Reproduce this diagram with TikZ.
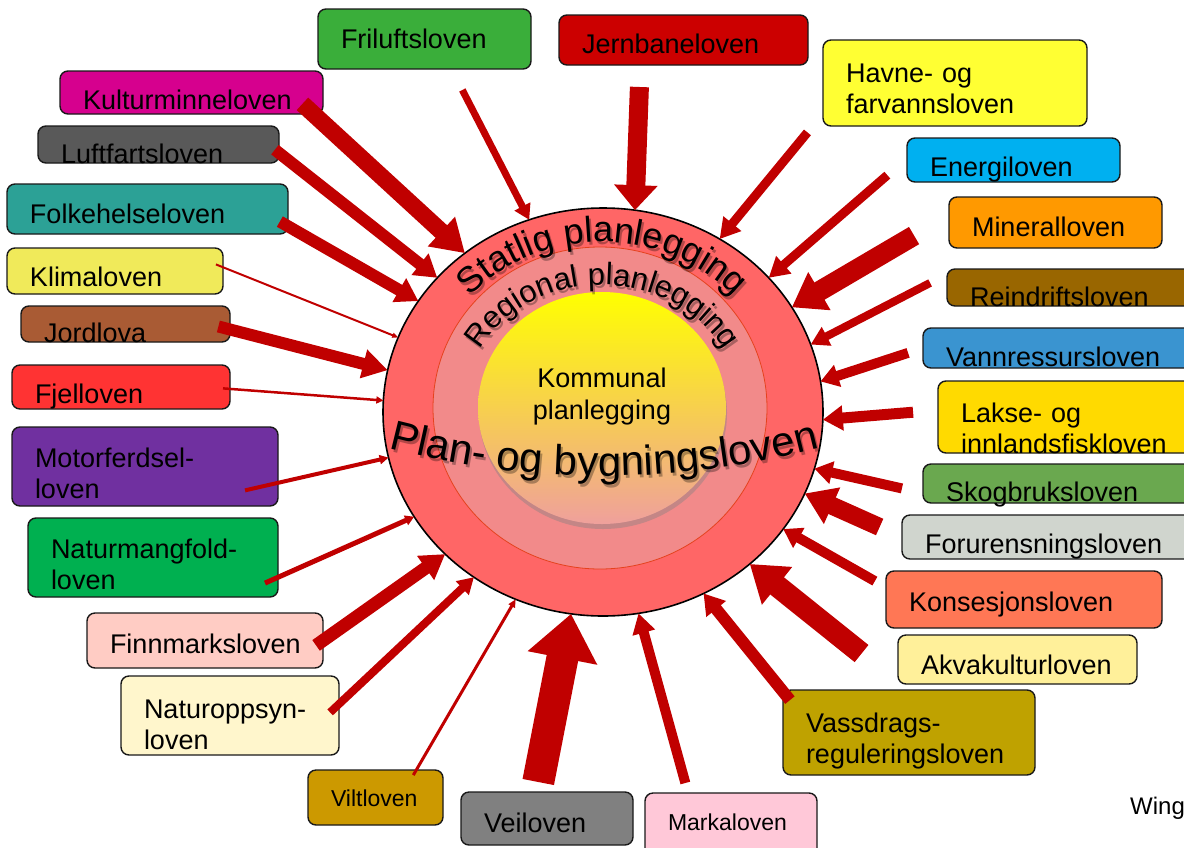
\documentclass[tikz,border=0pt]{standalone}
\usepackage{fontspec}
\setmainfont{Liberation Sans}
\usetikzlibrary{arrows.meta,shapes.geometric,decorations.text,shadows}

\definecolor{pilrod}{HTML}{C00000}
\definecolor{statlig}{HTML}{FF6666}
\definecolor{regional}{HTML}{F28A8A}
\definecolor{regkant}{HTML}{E5421E}
\definecolor{komtop}{HTML}{FFFF00}
\definecolor{kommid}{HTML}{FDEE20}
\definecolor{kombunn}{HTML}{EFA09C}
\definecolor{cfri}{HTML}{3AAE3A}
\definecolor{cjern}{HTML}{CC0000}
\definecolor{chavne}{HTML}{FFFF33}
\definecolor{cenergi}{HTML}{00B0F0}
\definecolor{cmineral}{HTML}{FF9900}
\definecolor{crein}{HTML}{996600}
\definecolor{cvann}{HTML}{3A94D0}
\definecolor{clakse}{HTML}{FFDA00}
\definecolor{cskog}{HTML}{6AA84F}
\definecolor{cforur}{HTML}{D0D5CE}
\definecolor{ckons}{HTML}{FF7755}
\definecolor{cakva}{HTML}{FFF09A}
\definecolor{cvass}{HTML}{BFA200}
\definecolor{cmarka}{HTML}{FFC8D8}
\definecolor{cvei}{HTML}{808080}
\definecolor{cvilt}{HTML}{CC9900}
\definecolor{cnopp}{HTML}{FFF6CC}
\definecolor{cfinn}{HTML}{FFCCC4}
\definecolor{cnmang}{HTML}{00B050}
\definecolor{cmotor}{HTML}{7030A0}
\definecolor{cfjell}{HTML}{FF3333}
\definecolor{cjord}{HTML}{A95B34}
\definecolor{cklima}{HTML}{F0EA5A}
\definecolor{cfolke}{HTML}{2CA196}
\definecolor{cluft}{HTML}{595959}
\definecolor{ckultur}{HTML}{D6008E}

\tikzset{
  lov/.style={draw=black!90,line width=1.4pt,rounded corners=8pt,anchor=north west,inner xsep=23pt,inner ysep=0pt,outer sep=0pt,align=left,text depth=0pt,font=\fontsize{27}{31}\selectfont},
  pil/.style={draw=pilrod}
}

\begin{document}
\begin{tikzpicture}[x=1pt,y=1pt]
% Background
\useasboundingbox (0,0) rectangle (1184,-847);
\clip (0,0) rectangle (1184,-847);
% Rings
\node[ellipse,draw=black,line width=1.6pt,fill=statlig,minimum width=440pt,minimum height=408pt,inner sep=0pt,outer sep=0pt] (stat) at (603,-412) {};
\node[ellipse,draw=regkant,line width=0.8pt,fill=regional,minimum width=334pt,minimum height=322pt,inner sep=0pt] (reg) at (600,-408) {};
\node[ellipse,top color=komtop,middle color=kommid,bottom color=kombunn,drop shadow={opacity=0.4,shadow xshift=1pt,shadow yshift=-5pt},minimum width=248pt,minimum height=232pt,inner sep=0pt] (kom) at (602,-408) {};
\node[anchor=north,inner sep=0pt,align=center,font=\fontsize{27}{32}\selectfont] (komtekst) at (602,-368) {Kommunal\\planlegging};
% Ring texts
\begin{scope}[opacity=0.3,xshift=2pt,yshift=-3pt]
\path[decorate,decoration={text along path,text align=center,text={|\fontsize{36}{36}\selectfont|Statlig planlegging}}] ([shift={(150:180 and 168)}]602,-410) arc[start angle=150,end angle=30,x radius=180,y radius=168];
\path[decorate,decoration={text along path,text align=center,text={|\fontsize{31}{31}\selectfont|Regional planlegging}}] ([shift={(162:139 and 123)}]602,-408) arc[start angle=162,end angle=18,x radius=139,y radius=123];
\path[decorate,decoration={text along path,text align=center,text={|\fontsize{42}{42}\selectfont|Plan- og bygningsloven}}] ([shift={(252:850)}]604,374) arc[start angle=252,end angle=288,radius=850];
\end{scope}
\path[decorate,decoration={text along path,text align=center,text={|\fontsize{36}{36}\selectfont|Statlig planlegging}}] ([shift={(150:180 and 168)}]602,-410) arc[start angle=150,end angle=30,x radius=180,y radius=168];
\path[decorate,decoration={text along path,text align=center,text={|\fontsize{31}{31}\selectfont|Regional planlegging}}] ([shift={(162:139 and 123)}]602,-408) arc[start angle=162,end angle=18,x radius=139,y radius=123];
\path[decorate,decoration={text along path,text align=center,text={|\fontsize{42}{42}\selectfont|Plan- og bygningsloven}}] ([shift={(252:850)}]604,374) arc[start angle=252,end angle=288,radius=850];
% Law boxes, top and right
\node[lov,fill=cfri,text width=167pt,minimum height=60pt,text height=18pt] (fri) at (318,-9) {Friluftsloven};
\node[lov,fill=cjern,text width=203pt,minimum height=50pt,text height=26pt] (jern) at (559,-15) {Jernbaneloven};
\node[lov,fill=chavne,text width=218pt,minimum height=86pt,text height=0pt,text depth=2pt] (havne) at (823,-40) {Havne- og\\farvannsloven};
\node[lov,fill=cenergi,text width=167pt,minimum height=44pt,text height=32pt] (energi) at (907,-138) {Energiloven};
\node[lov,fill=cmineral,text width=167pt,minimum height=51pt,text height=27pt] (mineral) at (949,-197) {Mineralloven};
\node[lov,fill=crein,text width=207pt,minimum height=37pt,text height=37pt] (rein) at (947,-269) {Reindriftsloven};
\node[lov,fill=cvann,text width=231pt,minimum height=40pt,text height=36pt] (vann) at (923,-328) {Vannressursloven};
\node[lov,fill=clakse,text width=216pt,minimum height=72pt,text height=10pt] (lakse) at (938,-381) {Lakse- og\\innlandsfiskloven};
\node[lov,fill=cskog,text width=231pt,minimum height=39pt,text height=35pt] (skog) at (923,-464) {Skogbruksloven};
\node[lov,fill=cforur,text width=252pt,minimum height=44pt,text height=32pt] (forur) at (902,-515) {Forurensningsloven};
\node[lov,fill=ckons,text width=230pt,minimum height=57pt,text height=23pt] (kons) at (886,-571) {Konsesjonsloven};
\node[lov,fill=cakva,text width=193pt,minimum height=49pt,text height=29pt] (akva) at (898,-635) {Akvakulturloven};
\node[lov,fill=cvass,text width=206pt,minimum height=85pt,text height=0pt] (vass) at (783,-690) {Vassdrags-\\reguleringsloven};
% Law boxes, bottom and left
\node[lov,fill=cmarka,text width=126pt,minimum height=67pt,text height=7pt,font=\fontsize{23}{27}\selectfont] (marka) at (645,-793) {Markaloven};
\node[lov,fill=cvei,text width=126pt,minimum height=53pt,text height=27pt] (vei) at (461,-792) {Veiloven};
\node[lov,fill=cvilt,text width=89pt,minimum height=55pt,text height=17pt,font=\fontsize{23}{27}\selectfont] (vilt) at (308,-770) {Viltloven};
\node[lov,fill=cnopp,text width=172pt,minimum height=79pt,text height=5pt] (nopp) at (121,-676) {Naturoppsyn-\\loven};
\node[lov,fill=cfinn,text width=190pt,minimum height=55pt,text height=25pt] (finn) at (87,-613) {Finnmarksloven};
\node[lov,fill=cnmang,text width=204pt,minimum height=79pt,text height=1pt] (nmang) at (28,-518) {Naturmangfold-\\loven};
\node[lov,fill=cmotor,text width=220pt,minimum height=79pt,text height=1pt] (motor) at (12,-427) {Motorferdsel-\\loven};
\node[lov,fill=cfjell,text width=172pt,minimum height=44pt,text height=32pt] (fjell) at (12,-365) {Fjelloven};
\node[lov,fill=cjord,text width=163pt,minimum height=36pt,text height=36pt] (jord) at (21,-306) {Jordlova};
\node[lov,fill=cklima,text width=170pt,minimum height=46pt,text height=30pt] (klima) at (7,-248) {Klimaloven};
\node[lov,fill=cfolke,text width=235pt,minimum height=50pt,text height=28pt] (folke) at (7,-184) {Folkehelseloven};
\node[lov,fill=cluft,text width=195pt,minimum height=37pt,text height=37pt] (luft) at (38,-126) {Luftfartsloven};
\node[lov,fill=ckultur,text width=217pt,minimum height=43pt,text height=33pt] (kultur) at (60,-71) {Kulturminneloven};
% Arrows into the rings
\draw[pil,line width=7pt,-{Triangle[length=15pt,width=17pt]},shorten <=23.6pt] (fri.312.8) -- (stat.111.1);
\draw[pil,line width=19pt,-{Triangle[length=25pt,width=42pt]},shorten <=22pt] (jern.210.8) -- (stat.81.9);
\draw[pil,line width=9pt,-{Triangle[length=20pt,width=22pt]},shorten <=24.5pt] (havne.193) -- (stat.56.8);
\draw[pil,line width=9pt,-{Triangle[length=20pt,width=22pt]},shorten <=26pt] (energi.179.5) -- (stat.39.3);
\draw[pil,line width=20pt,-{Triangle[length=32pt,width=42pt]},shorten <=40.5pt] (mineral.176.3) -- (stat.29.1);
\draw[pil,line width=8pt,-{Triangle[length=18pt,width=20pt]},shorten <=19pt] (rein.174.1) -- (stat.18.4);
\draw[pil,line width=10pt,-{Triangle[length=18pt,width=22pt]},shorten <=15.7pt] (vann.180) -- (stat.8.3);
\draw[pil,line width=11pt,-{Triangle[length=20pt,width=24pt]},shorten <=25pt] (lakse.177.6) -- (stat.358.4);
\draw[pil,line width=10pt,-{Triangle[length=18pt,width=22pt]},shorten <=21.6pt] (skog.184) -- (stat.345.6);
\draw[pil,line width=18pt,-{Triangle[length=30pt,width=38pt]},shorten <=24.5pt] (forur.180.7) -- (stat.338.6);
\draw[pil,line width=10pt,-{Triangle[length=18pt,width=22pt]},shorten <=12.8pt] (kons.175.5) -- (stat.327.4);
\draw[pil,line width=22pt,-{Triangle[length=35pt,width=46pt]},shorten <=46.7pt] (akva.191.6) -- (stat.314.6);
\draw[pil,line width=12pt,-{Triangle[length=20pt,width=24pt]},shorten <=-11pt] (vass.162) -- (stat.299.2);
\draw[pil,line width=10pt,-{Triangle[length=20pt,width=22pt]},shorten <=10.4pt] (marka.142.3) -- (stat.280.2);
\draw[pil,line width=32pt,-{Triangle[length=45pt,width=68pt]},shorten <=10.2pt] (vei.112.7) -- (stat.261.4);
\draw[pil,line width=3pt,-{Triangle[length=8pt,width=7pt]},shorten <=-5.9pt] (vilt.34.8) -- (stat.245.7);
\draw[pil,line width=8pt,-{Triangle[length=16pt,width=18pt]},shorten <=-12.2pt] (nopp.6.2) -- (stat.232.3);
\draw[pil,line width=13pt,-{Triangle[length=24pt,width=28pt]},shorten <=-8.5pt] (finn.0) -- (stat.222.3);
\draw[pil,line width=5pt,-{Triangle[length=9pt,width=10pt]},shorten <=-14.2pt] (nmang.351) -- (stat.209.5);
\draw[pil,line width=4pt,-{Triangle[length=9pt,width=9pt]},shorten <=-33.8pt] (motor.353) -- (stat.192.2);
\draw[pil,line width=2.5pt,-{Triangle[length=7pt,width=7pt]},shorten <=-7pt] (fjell.359.2) -- (stat.177);
\draw[pil,line width=12pt,-{Triangle[length=25pt,width=28pt]},shorten <=-12pt] (jord.357.3) -- (stat.169.9);
\draw[pil,line width=2pt,-{Triangle[length=6pt,width=5pt]},shorten <=-7.6pt] (klima.2.7) -- (stat.160.4);
\draw[pil,line width=12pt,-{Triangle[length=22pt,width=26pt]},shorten <=-9.4pt] (folke.353.5) -- (stat.149.9);
\draw[pil,line width=12pt,-{Triangle[length=22pt,width=26pt]},shorten <=-5.2pt] (luft.356.5) -- (stat.141.5);
\draw[pil,line width=17pt,-{Triangle[length=32pt,width=38pt]},shorten <=-15pt] (kultur.350.7) -- (stat.131.5);
% Corner text
\node[anchor=base west,inner sep=0pt,font=\fontsize{24}{24}\selectfont] (wing) at (1130,-814) {Wing};
\end{tikzpicture}
\end{document}
